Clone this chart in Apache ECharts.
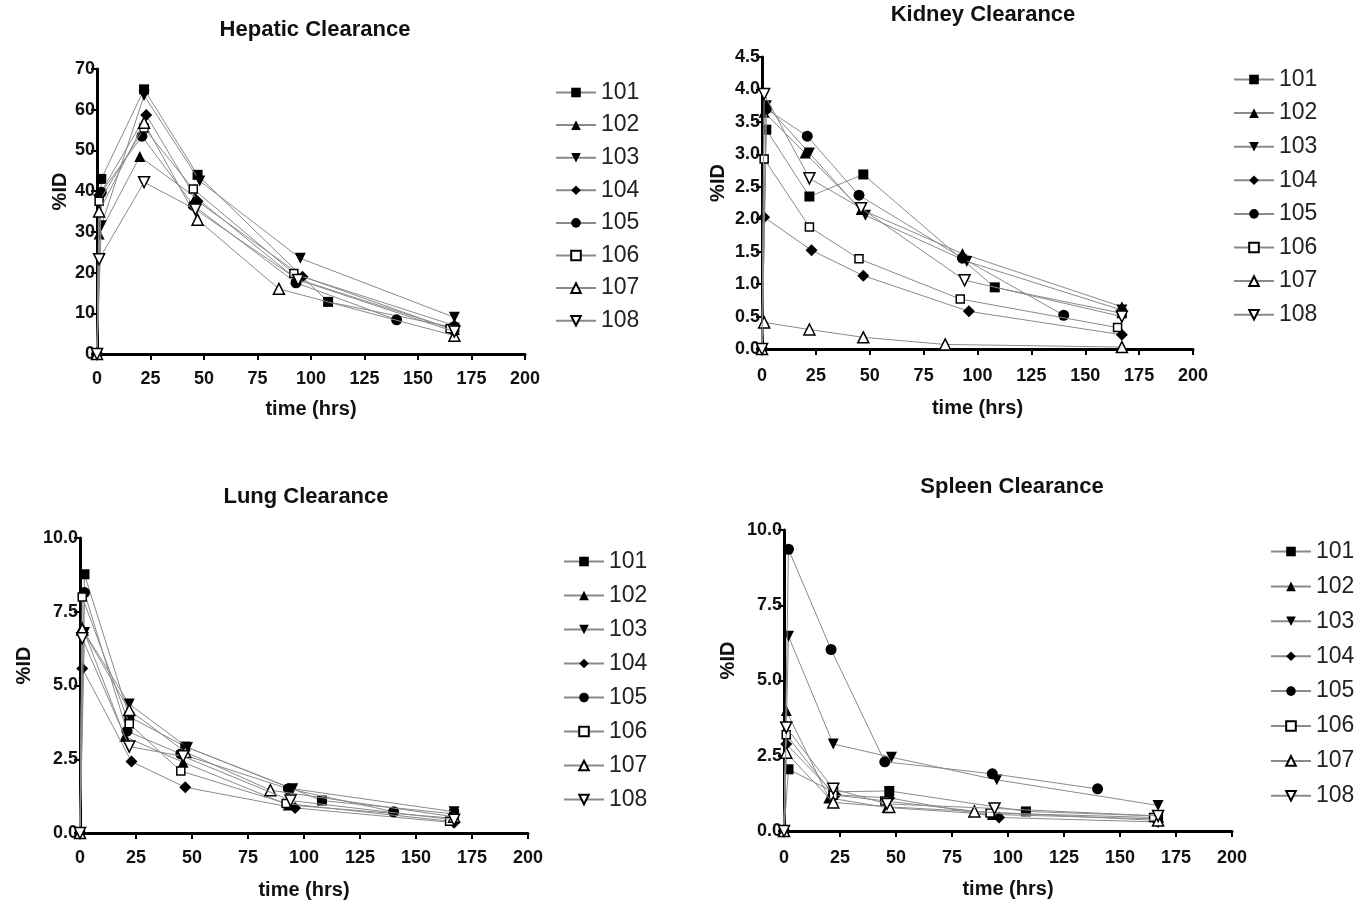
<!DOCTYPE html>
<html>
<head>
<meta charset="utf-8">
<script src="https://cdn.jsdelivr.net/npm/echarts@6/dist/echarts.min.js"></script>
<style>
html,body{margin:0;padding:0;background:#fff;}
#c{width:1363px;height:906px;}
</style>
</head>
<body>
<div id="c"></div>
<script>
// ---- Data ----
const animals = ['101','102','103','104','105','106','107','108'];
const panelTitles = ['Hepatic Clearance','Kidney Clearance','Lung Clearance','Spleen Clearance'];
const xTicks = [0,25,50,75,100,125,150,175,200];

// sampling times (hrs) per animal
const t101 = [0, 2, 22, 47, 108, 167];
const t102 = [0, 1, 20, 46, 93, 167];
const t103 = [0, 2, 22, 48, 95, 167];
const t104 = [0, 1, 23, 47, 96, 167];
const t105 = [0, 2, 21, 45, 93, 140];
const t106 = [0, 1, 22, 45, 92, 165];
const t107 = [0, 1, 22, 47, 85, 167];
const t108 = [0, 1, 22, 46, 94, 167];

// %ID values – Hepatic
const hep101 = [0, 43, 65, 44, 12.8, 6.5];
const hep102 = [0, 29.5, 48.5, 38.5, 18.5, 6];
const hep103 = [0, 31.5, 63.5, 42.5, 23.5, 9];
const hep104 = [0, 39, 58.7, 37.5, 19, 7];
const hep105 = [0, 39.7, 53.5, 36.5, 17.5, 8.4];
const hep106 = [0, 37.5, 55.5, 40.5, 19.8, 6.2];
const hep107 = [0, 35, 56.8, 33, 16, 4.5];
const hep108 = [0, 23.3, 42.2, 35.5, 18.2, 5.5];

// Kidney
const kid101 = [0, 3.38, 2.35, 2.69, 0.95, 0.55];
const kid102 = [0, 3.65, 3.02, 2.15, 1.47, 0.65];
const kid103 = [0, 3.75, 3.02, 2.06, 1.35, 0.6];
const kid104 = [0, 2.03, 1.52, 1.13, 0.58, 0.22];
const kid105 = [0, 3.7, 3.28, 2.37, 1.4, 0.52];
const kid106 = [0, 2.93, 1.88, 1.39, 0.77, 0.33];
const kid107 = [0, 0.41, 0.3, 0.18, 0.07, 0.03];
const kid108 = [0, 3.93, 2.63, 2.17, 1.06, 0.5];

// Lung
const lung101 = [0, 8.77, 3.94, 2.93, 1.1, 0.65];
const lung102 = [0, 7.0, 3.27, 2.4, 0.95, 0.5];
const lung103 = [0, 6.8, 4.37, 2.9, 1.5, 0.72];
const lung104 = [0, 5.58, 2.42, 1.55, 0.85, 0.35];
const lung105 = [0, 8.15, 3.45, 2.68, 1.5, 0.72];
const lung106 = [0, 8.0, 3.7, 2.1, 1.0, 0.4];
const lung107 = [0, 6.9, 4.17, 2.75, 1.45, 0.55];
const lung108 = [0, 6.6, 2.93, 2.6, 1.1, 0.45];

// Spleen
const spl101 = [0, 2.05, 1.3, 1.33, 0.65, 0.5];
const spl102 = [0, 4.0, 1.1, 0.78, 0.55, 0.4];
const spl103 = [0, 6.47, 2.89, 2.45, 1.7, 0.85];
const spl104 = [0, 2.89, 1.2, 1.1, 0.45, 0.3];
const spl105 = [0, 9.36, 6.03, 2.3, 1.9, 1.4];
const spl106 = [0, 3.2, 1.2, 1.0, 0.6, 0.45];
const spl107 = [0, 2.6, 0.95, 0.8, 0.65, 0.35];
const spl108 = [0, 3.44, 1.4, 0.9, 0.75, 0.5];

// ---- Assembly ----
const times = [t101,t102,t103,t104,t105,t106,t107,t108];
const panelValues = [
  [hep101,hep102,hep103,hep104,hep105,hep106,hep107,hep108],
  [kid101,kid102,kid103,kid104,kid105,kid106,kid107,kid108],
  [lung101,lung102,lung103,lung104,lung105,lung106,lung107,lung108],
  [spl101,spl102,spl103,spl104,spl105,spl106,spl107,spl108]
];

const FONT = 'Arial, "Liberation Sans", sans-serif';
const symbolDefs = [
  {symbol:'rect', rot:0, open:false, size:10},
  {symbol:'triangle', rot:0, open:false, size:11},
  {symbol:'triangle', rot:180, open:false, size:11},
  {symbol:'diamond', rot:0, open:false, size:12},
  {symbol:'circle', rot:0, open:false, size:11},
  {symbol:'rect', rot:0, open:true, size:8},
  {symbol:'triangle', rot:0, open:true, size:11},
  {symbol:'triangle', rot:180, open:true, size:11}
];

const grids = [
  {left:97, top:69, width:428, height:285},
  {left:762, top:57, width:431, height:292},
  {left:80, top:538, width:448, height:295},
  {left:784, top:530, width:448, height:301}
];
const yCfg = [
  {max:70, interval:10, fmt:v=>String(v), nameGap:27},
  {max:4.5, interval:0.5, fmt:v=>v.toFixed(1), nameGap:34},
  {max:10, interval:2.5, fmt:v=>v.toFixed(1), nameGap:46},
  {max:10, interval:2.5, fmt:v=>v.toFixed(1), nameGap:46}
];
const xLabelMargin = [16, 18, 16, 18];
const xNameGap = [45, 49, 47, 48];
const titlePos = [
  {x:310, y:14},{x:978, y:-1},{x:301, y:481},{x:1007, y:471}
];
const legendPos = [
  {left:550, top:76, gap:9.6},
  {left:1228, top:63, gap:10.6},
  {left:558, top:545, gap:11},
  {left:1265, top:535, gap:11.9}
];

const axisLine = {show:true, lineStyle:{color:'#000', width:3}};
const axisTick = {show:true, length:6, lineStyle:{color:'#000', width:2}};
const labelStyle = {color:'#111', fontWeight:'bold', fontSize:18, fontFamily:FONT};

const xAxis = [], yAxis = [], series = [], legend = [], title = [];
grids.forEach((g,i)=>{
  xAxis.push({
    type:'value', gridIndex:i, min:0, max:200, interval:25,
    name:'time (hrs)', nameLocation:'middle', nameGap:xNameGap[i],
    nameTextStyle:{color:'#111', fontWeight:'bold', fontSize:20, fontFamily:FONT},
    axisLine:axisLine, axisTick:axisTick,
    axisLabel:Object.assign({margin:xLabelMargin[i]}, labelStyle),
    splitLine:{show:false}
  });
  yAxis.push({
    type:'value', gridIndex:i, min:0, max:yCfg[i].max, interval:yCfg[i].interval,
    name:'%ID', nameLocation:'middle', nameGap:yCfg[i].nameGap,
    nameTextStyle:{color:'#111', fontWeight:'bold', fontSize:20, fontFamily:FONT, padding:[0,0,0,40]},
    axisLine:axisLine, axisTick:axisTick,
    axisLabel:Object.assign({margin:2, formatter:yCfg[i].fmt}, labelStyle),
    splitLine:{show:false}
  });
  title.push({
    text:panelTitles[i], left:titlePos[i].x, top:titlePos[i].y, textAlign:'center',
    textStyle:{color:'#111', fontWeight:'bold', fontSize:22, fontFamily:FONT}
  });
  legend.push({
    data:animals, orient:'vertical', left:legendPos[i].left, top:legendPos[i].top,
    itemGap:legendPos[i].gap, itemWidth:40, itemHeight:12, selectedMode:false,
    textStyle:{color:'#222', fontSize:23, lineHeight:20, fontFamily:FONT}
  });
  animals.forEach((a,k)=>{
    const sd = symbolDefs[k];
    const data = times[k].map((t,j)=>[t, panelValues[i][k][j]]);
    series.push({
      type:'line', name:a, xAxisIndex:i, yAxisIndex:i, data:data,
      symbol:sd.symbol, symbolRotate:sd.rot, symbolSize:sd.size, showAllSymbol:true,
      lineStyle:{color:'#8a8a8a', width:1},
      itemStyle: sd.open ? {color:'#fff', borderColor:'#000', borderWidth:1.5}
                         : {color:'#000', borderColor:'#000', borderWidth:0},
      emphasis:{disabled:true}, animation:false, z:2+k
    });
  });
});

const chart = echarts.init(document.getElementById('c'), null, {renderer:'canvas'});
chart.setOption({
  backgroundColor:'#fff',
  animation:false,
  title:title, grid:grids, xAxis:xAxis, yAxis:yAxis, legend:legend, series:series
});
</script>
</body>
</html>
